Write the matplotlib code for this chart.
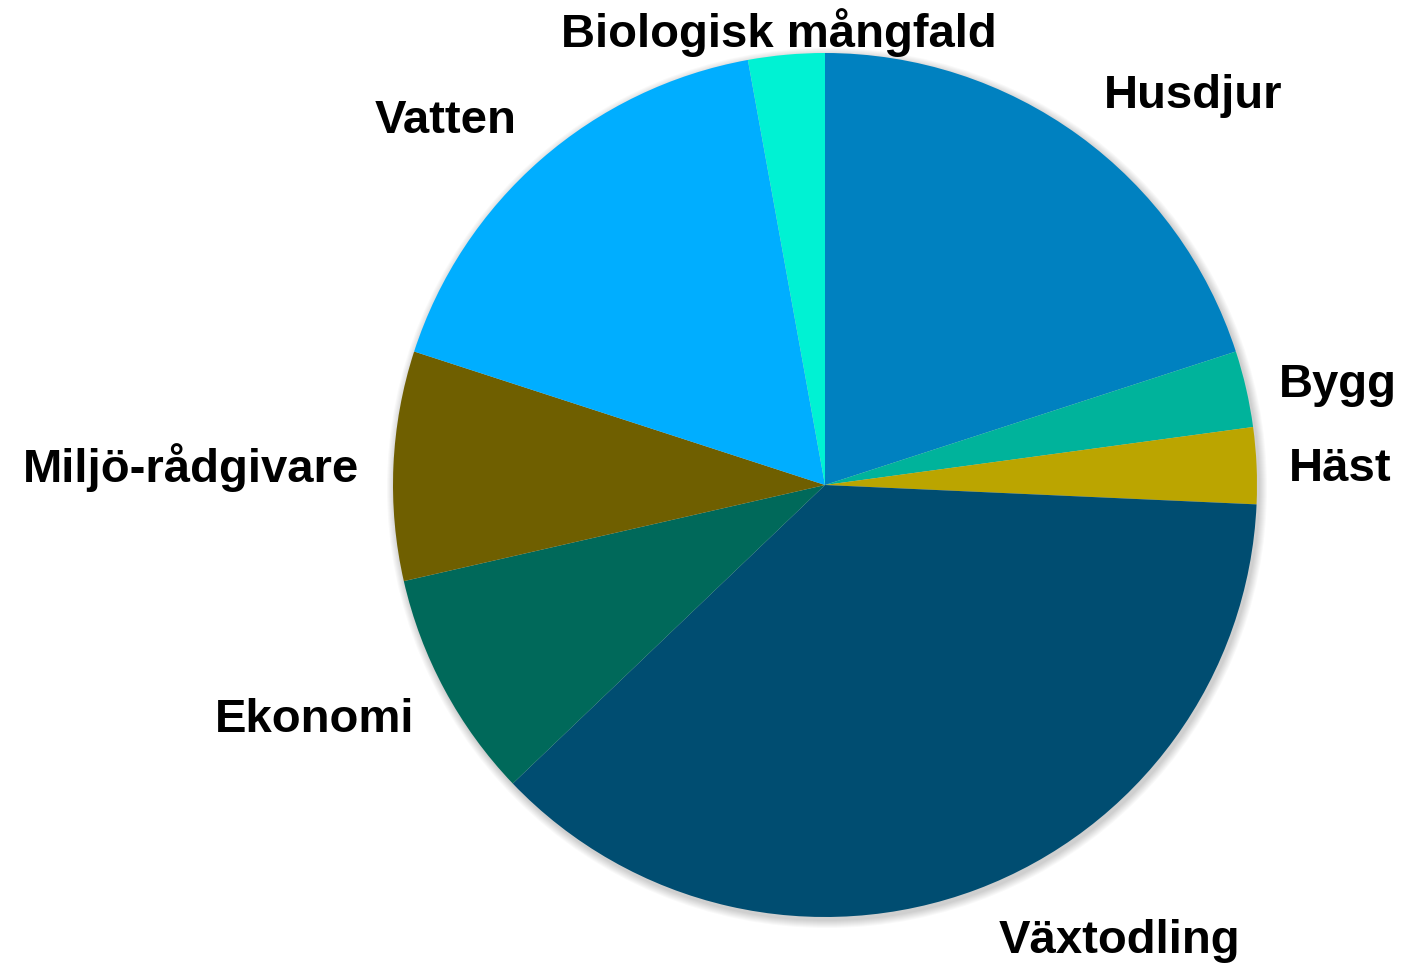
import matplotlib.pyplot as plt
from matplotlib.patches import Circle

# data
categories = ['Husdjur', 'Bygg', 'Häst', 'Växtodling', 'Ekonomi',
              'Miljö-rådgivare', 'Vatten', 'Biologisk mångfald']
counts = [7, 1, 1, 13, 3, 3, 6, 1]
colors = ['#0081C0', '#00B39B', '#BBA500', '#004D71', '#00695A',
          '#6F5F00', '#00AEFF', '#00F2D3']

# label centres in pixels (x, y from top)
label_pos = [(1193, 96), (1338, 385), (1340, 469), (1119, 941),
             (315, 720), (191, 468), (446, 121), (779, 33)]

W, H = 1407, 965
cx, cy, r = 825, H - 485, 432

fig = plt.figure(figsize=(W / 100, H / 100), dpi=100)
ax = fig.add_axes([0, 0, 1, 1])

# soft shadow behind the pie
for i in range(8):
    ax.add_patch(Circle((cx + 2, cy - 3), r + 8 - i, color='black',
                        alpha=0.025, lw=0, zorder=0))

wedges, _ = ax.pie(counts, colors=colors, startangle=90, counterclock=False,
                   center=(cx, cy), radius=r, frame=True,
                   wedgeprops=dict(linewidth=0))
ax.set_xlim(0, W)
ax.set_ylim(0, H)
ax.axis('off')

for name, (x, y) in zip(categories, label_pos):
    ax.text(x, H - y, name, ha='center', va='center', fontsize=34,
            fontweight='bold', family='Liberation Sans', color='black')

fig.savefig('out.png', dpi=100)
